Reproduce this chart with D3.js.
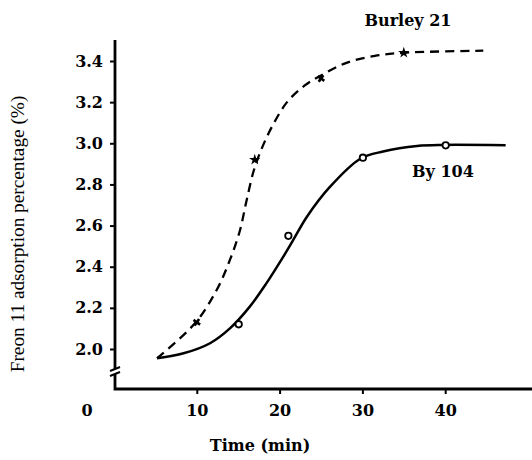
<!DOCTYPE html>
<html><head><meta charset="utf-8">
<script src="https://cdn.jsdelivr.net/npm/d3@7"></script>
<style>html,body{margin:0;padding:0;background:#fff;}svg{display:block;}</style>
</head><body>
<svg id="c" width="532" height="460"></svg>
<script>
// ---- data ----
const xTicks = [10, 20, 30, 40];
const yTicks = [2.0, 2.2, 2.4, 2.6, 2.8, 3.0, 3.2, 3.4];
const yTickLabels = ["2.0", "2.2", "2.4", "2.6", "2.8", "3.0", "3.2", "3.4"];
// Burley 21 (dashed fitted curve)
const burleyCurveX = [5.2, 9.8, 12.4, 14.0, 15.2, 16.0, 16.9, 17.9, 19.2, 20.9, 23.0, 25.0, 28.0, 31.5, 35.0, 44.6];
const burleyCurveY = [1.955, 2.126, 2.287, 2.433, 2.575, 2.72, 2.87, 2.98, 3.09, 3.20, 3.28, 3.33, 3.39, 3.425, 3.44, 3.45];
const burleyPtX = [10, 17, 25, 35];
const burleyPtY = [2.13, 2.92, 3.315, 3.44];
const burleyPtShape = ["x", "star", "x", "star"];
// By 104 (solid fitted curve)
const byCurveX = [5.2, 8.4, 11.6, 14.0, 16.4, 18.4, 20.45, 21.65, 23.3, 26.1, 29.75, 32.5, 36.6, 39.8, 47.3];
const byCurveY = [1.955, 1.979, 2.028, 2.10, 2.206, 2.319, 2.449, 2.53, 2.643, 2.789, 2.925, 2.96, 2.987, 2.992, 2.99];
const byPtX = [15, 21, 30, 40];
const byPtY = [2.12, 2.55, 2.93, 2.99];

const svg = d3.select("#c");
const serif = "'Liberation Serif','Times New Roman',serif";
const boldFont = "'DejaVu Serif',serif";

const x = d3.scaleLinear().domain([0, 50]).range([114, 528]);
const y = d3.scaleLinear().domain([2.0, 3.4]).range([349, 61]);

const axisX0 = 115, axisY0 = 389;

// axis lines
svg.append("path")
  .attr("d", `M${axisX0},40 L${axisX0},${axisY0} L532,${axisY0}`)
  .attr("fill", "none").attr("stroke", "#000").attr("stroke-width", 2.8);

// y axis ticks & labels
const yAxis = d3.axisLeft(y).tickValues(yTicks).tickSize(5).tickPadding(7)
  .tickFormat((d, i) => yTickLabels[i]);
const gy = svg.append("g").attr("transform", `translate(${axisX0},0)`).call(yAxis);
gy.select(".domain").remove();
gy.selectAll(".tick line").attr("stroke", "#000").attr("stroke-width", 2);
gy.selectAll(".tick text").attr("font-family", boldFont).attr("font-weight", "bold")
  .attr("font-size", 16).attr("fill", "#000");

// x axis ticks & labels
const xAxis = d3.axisBottom(x).tickValues(xTicks).tickSize(5).tickPadding(11)
  .tickFormat(d3.format("d"));
const gx = svg.append("g").attr("transform", `translate(0,${axisY0})`).call(xAxis);
gx.select(".domain").remove();
gx.selectAll(".tick line").attr("stroke", "#000").attr("stroke-width", 2);
gx.selectAll(".tick text").attr("font-family", boldFont).attr("font-weight", "bold")
  .attr("font-size", 16).attr("fill", "#000");

// "0" origin label
svg.append("text").attr("x", 87).attr("y", 416).attr("text-anchor", "middle")
  .attr("font-family", boldFont).attr("font-weight", "bold").attr("font-size", 16).text("0");

// axis break on y axis
const by = 372;
svg.append("rect").attr("x", axisX0 - 4).attr("y", by - 3).attr("width", 8).attr("height", 5).attr("fill", "#fff");
[-3, 2].forEach(o => {
  svg.append("line").attr("x1", axisX0 - 5).attr("y1", by + o + 2).attr("x2", axisX0 + 5).attr("y2", by + o - 2)
    .attr("stroke", "#000").attr("stroke-width", 2);
});

// curves
const line = d3.line().x(d => x(d[0])).y(d => y(d[1])).curve(d3.curveCatmullRom.alpha(0.5));
svg.append("path").datum(burleyCurveX.map((v, i) => [v, burleyCurveY[i]]))
  .attr("d", line).attr("fill", "none").attr("stroke", "#000")
  .attr("stroke-width", 2.3).attr("stroke-dasharray", "9,6");
svg.append("path").datum(byCurveX.map((v, i) => [v, byCurveY[i]]))
  .attr("d", line).attr("fill", "none").attr("stroke", "#000")
  .attr("stroke-width", 2.5);

// markers
burleyPtX.forEach((v, i) => {
  const cx = x(v), cy = y(burleyPtY[i]);
  if (burleyPtShape[i] === "star") {
    svg.append("path").attr("d", d3.symbol().type(d3.symbolStar).size(40)())
      .attr("transform", `translate(${cx},${cy})`).attr("fill", "#000");
  } else {
    svg.append("path").attr("d", d3.symbol().type(d3.symbolCross).size(36)())
      .attr("transform", `translate(${cx},${cy}) rotate(35)`).attr("fill", "#000");
  }
});
byPtX.forEach((v, i) => {
  svg.append("circle").attr("cx", x(v) + 0.5).attr("cy", y(byPtY[i])).attr("r", 3.2)
    .attr("fill", "#fff").attr("stroke", "#000").attr("stroke-width", 1.8);
});

// series labels
svg.append("text").attr("x", 408).attr("y", 26).attr("text-anchor", "middle")
  .attr("font-family", boldFont).attr("font-weight", "bold").attr("font-size", 16).text("Burley 21");
svg.append("text").attr("x", 443).attr("y", 177).attr("text-anchor", "middle")
  .attr("font-family", boldFont).attr("font-weight", "bold").attr("font-size", 16).text("By 104");

// axis titles
svg.append("text").attr("x", 260).attr("y", 451).attr("text-anchor", "middle")
  .attr("font-family", boldFont).attr("font-weight", "bold").attr("font-size", 16).text("Time (min)");
svg.append("text").attr("transform", "translate(24,234) rotate(-90)").attr("text-anchor", "middle")
  .attr("font-family", serif).attr("font-size", 19.3).text("Freon 11 adsorption percentage (%)");
</script>
</body></html>
